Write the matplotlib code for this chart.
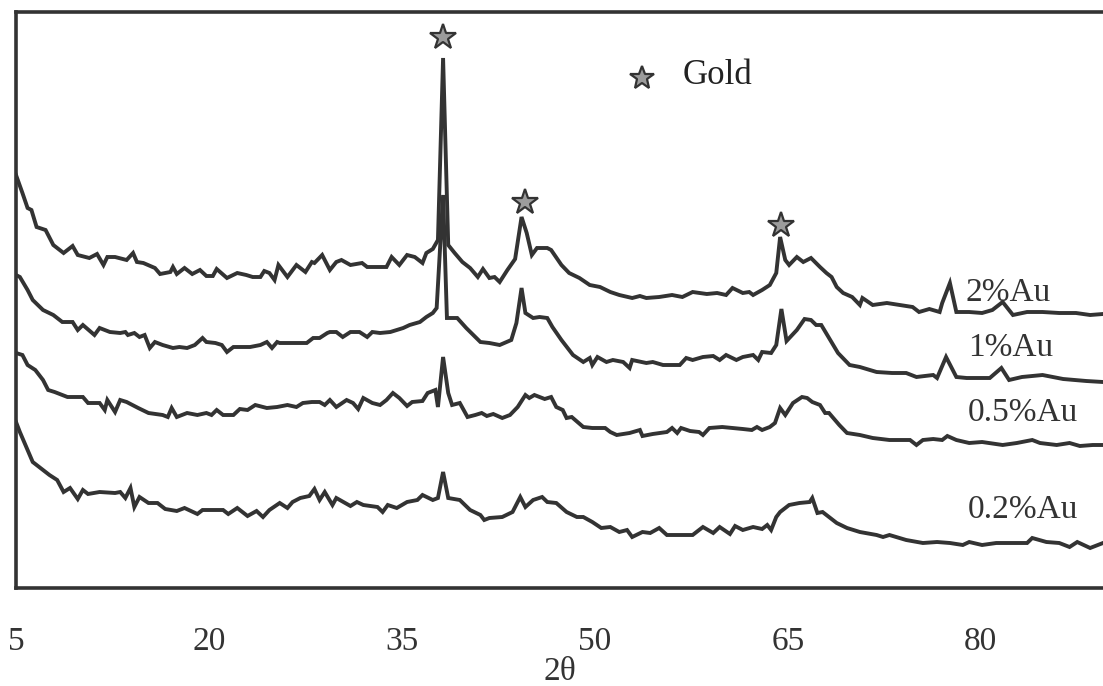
import matplotlib
matplotlib.use("Agg")
import matplotlib.pyplot as plt

# 2theta (deg) and intensity (a.u., curves already offset)
theta_2 = [5.0, 5.5, 5.9, 6.2, 6.6, 7.3, 7.9, 8.7, 9.4, 9.8, 10.7, 11.3, 11.8, 12.1, 12.7, 13.6, 14.1, 14.4, 14.9,
           15.8, 16.2, 17.0, 17.2, 17.5, 18.1, 18.7, 19.3, 19.8, 20.3, 20.6, 21.4, 22.2, 22.9, 23.4, 24.0, 24.3,
           24.7, 25.1, 25.4, 26.1, 26.8, 27.5, 28.0, 28.2, 28.8, 29.4, 29.9, 30.3, 31.0, 31.9, 32.3, 33.8, 34.2,
           34.8, 35.4, 36.0, 36.6, 36.9, 37.4, 37.8, 38.2, 38.6, 39.1, 39.7, 40.3, 40.9, 41.3, 41.8, 42.2, 42.6,
           43.2, 43.8, 44.3, 44.7, 45.1, 45.5, 46.3, 46.6, 47.4, 48.0, 48.8, 49.6, 50.4, 51.2, 51.9, 52.9, 53.5,
           54.0, 55.0, 56.0, 56.8, 57.6, 58.7, 59.5, 60.2, 60.7, 61.5, 62.0, 62.3, 63.0, 63.6, 64.1, 64.4, 64.8,
           65.1, 65.7, 66.2, 66.8, 67.5, 68.0, 68.4, 68.8, 69.3, 70.0, 70.6, 70.8, 71.6, 72.7, 73.7, 74.7, 75.2,
           76.0, 76.8, 77.0, 77.6, 78.1, 79.1, 80.1, 80.9, 81.7, 82.5, 83.6, 84.8, 86.1, 87.4, 88.5, 89.5]
int_2 = [413, 395, 380, 378, 361, 358, 343, 335, 342, 333, 330, 334, 323, 331, 331, 328, 335, 326, 325,
         320, 314, 316, 321, 314, 320, 314, 318, 312, 312, 319, 310, 315, 313, 311, 311, 317,
         315, 308, 323, 311, 323, 316, 326, 325, 333, 318, 326, 328, 323, 325, 321, 321, 331,
         323, 333, 331, 325, 335, 339, 348, 530, 343, 335, 326, 320, 311, 319, 310, 311, 306,
         318, 329, 371, 355, 333, 340, 340, 338, 323, 315, 310, 303, 301, 296, 293, 290, 292,
         290, 291, 293, 291, 296, 294, 295, 293, 300, 295, 296, 293, 298, 303, 315, 351, 328,
         323, 331, 326, 330, 321, 315, 311, 301, 295, 291, 283, 290, 283, 285, 283, 281, 276,
         279, 276, 285, 305, 276, 276, 275, 278, 286, 273, 276, 276, 275, 275, 273, 274]

theta_1 = [5.0, 5.3, 5.9, 6.3, 7.1, 7.9, 8.6, 9.4, 9.8, 10.2, 11.1, 11.5, 12.3, 13.1, 13.5, 13.7, 14.2, 14.6,
           15.0, 15.4, 15.8, 16.4, 17.2, 17.7, 18.3, 18.9, 19.5, 19.8, 20.5, 21.0, 21.4, 21.9, 22.6, 23.2,
           24.0, 24.5, 24.9, 25.3, 25.5, 26.5, 27.6, 28.1, 28.6, 29.2, 29.4, 29.9, 30.4, 31.0, 31.7, 32.3,
           32.7, 33.3, 34.1, 35.1, 35.6, 36.4, 36.9, 37.4, 37.7, 38.2, 38.5, 39.3, 40.0, 41.1, 41.8, 42.6,
           43.5, 43.9, 44.3, 44.6, 45.2, 45.7, 46.3, 46.7, 47.4, 48.3, 49.1, 49.6, 49.8, 50.2, 50.9, 51.4,
           52.2, 52.7, 52.9, 54.0, 54.5, 55.3, 56.6, 57.1, 57.6, 58.4, 59.2, 59.7, 60.2, 61.0, 61.5, 62.3,
           62.7, 63.0, 63.7, 64.1, 64.5, 64.9, 65.7, 66.3, 66.8, 67.2, 67.6, 68.2, 68.9, 69.8, 70.6, 71.9,
           73.1, 74.2, 75.0, 76.3, 76.6, 77.3, 78.1, 78.9, 80.7, 81.6, 82.2, 83.2, 84.8, 86.4, 88.2, 89.5]
int_1 = [313, 311, 298, 288, 278, 273, 266, 266, 258, 263, 253, 260, 256, 255, 256, 253, 255, 251,
         253, 240, 246, 243, 240, 241, 240, 243, 250, 246, 245, 243, 236, 241, 241, 241,
         243, 246, 240, 246, 245, 245, 245, 250, 250, 255, 256, 256, 251, 256, 256, 251,
         256, 255, 256, 260, 263, 266, 271, 275, 280, 393, 270, 270, 260, 246, 245, 243,
         248, 265, 300, 275, 270, 271, 270, 261, 248, 233, 226, 230, 223, 231, 226, 228,
         226, 220, 228, 225, 226, 223, 223, 230, 228, 231, 232, 228, 233, 228, 231, 233,
         228, 236, 235, 243, 279, 247, 258, 269, 268, 263, 263, 250, 235, 223, 221, 216,
         215, 215, 211, 213, 210, 231, 211, 210, 210, 220, 208, 211, 213, 209, 207, 206]

theta_05 = [5.0, 5.5, 5.9, 6.5, 7.1, 7.5, 8.0, 9.0, 10.2, 10.6, 11.5, 11.9, 12.1, 12.7, 13.1, 13.6, 14.5,
            15.3, 16.4, 16.8, 17.1, 17.5, 18.3, 19.1, 19.8, 20.2, 20.6, 21.1, 21.9, 22.4, 23.0, 23.6, 24.5,
            25.3, 26.1, 26.8, 27.3, 28.0, 28.6, 29.0, 29.4, 29.9, 30.7, 31.2, 31.6, 32.0, 32.7, 33.3, 33.8,
            34.3, 34.8, 35.4, 35.8, 36.6, 37.0, 37.6, 37.8, 38.2, 38.6, 38.9, 39.5, 40.1, 40.7, 41.2, 41.6,
            42.1, 42.8, 43.4, 44.0, 44.6, 44.9, 45.3, 46.1, 46.6, 47.0, 47.5, 47.8, 48.2, 49.1, 49.8, 50.8,
            51.2, 51.7, 52.7, 53.5, 53.7, 54.5, 55.6, 56.0, 56.4, 56.7, 57.4, 58.1, 58.4, 58.9, 59.9, 60.7,
            61.5, 62.2, 62.6, 63.0, 63.6, 64.0, 64.4, 64.8, 65.4, 66.1, 66.5, 66.9, 67.5, 67.9, 68.2, 69.0,
            69.6, 70.6, 71.6, 72.9, 74.5, 75.0, 75.5, 76.3, 77.0, 77.4, 78.1, 79.1, 80.1, 81.7, 82.8, 84.0,
            84.6, 85.9, 86.9, 87.7, 88.7, 89.5]
int_05 = [235, 233, 223, 218, 208, 198, 196, 191, 191, 185, 185, 178, 188, 176, 188, 186, 180,
          175, 173, 171, 180, 171, 175, 173, 175, 173, 178, 173, 173, 179, 178, 183, 180,
          181, 183, 181, 185, 186, 186, 183, 188, 181, 188, 185, 179, 190, 185, 183, 188,
          195, 190, 182, 186, 187, 195, 198, 181, 231, 195, 183, 185, 171, 173, 175, 172,
          174, 170, 173, 181, 193, 190, 193, 189, 191, 181, 178, 170, 171, 161, 160, 160,
          156, 153, 155, 158, 152, 154, 156, 160, 155, 160, 157, 156, 153, 160, 161, 160,
          159, 158, 161, 158, 161, 165, 180, 173, 185, 191, 190, 186, 183, 175, 175, 163,
          155, 153, 150, 148, 148, 143, 148, 149, 148, 152, 148, 145, 146, 143, 145, 148,
          145, 143, 145, 142, 143, 143]

theta_02 = [5.0, 5.3, 5.9, 6.3, 6.9, 7.6, 8.2, 8.7, 9.2, 9.8, 10.2, 10.6, 11.5, 12.7, 13.1, 13.5, 13.9, 14.2,
            14.6, 15.3, 16.0, 16.6, 17.5, 18.1, 19.1, 19.5, 21.1, 21.5, 22.2, 23.0, 23.7, 24.2, 24.7, 25.5,
            26.1, 26.5, 27.1, 27.8, 28.2, 28.6, 29.0, 29.6, 29.9, 31.0, 31.5, 32.0, 33.1, 33.5, 33.9, 34.6,
            35.4, 36.2, 36.6, 37.4, 37.8, 38.2, 38.6, 39.5, 40.3, 41.1, 41.4, 41.8, 42.8, 43.6, 44.2, 44.6,
            45.2, 45.9, 46.3, 47.0, 47.8, 48.6, 49.1, 49.8, 50.5, 51.2, 51.9, 52.5, 52.9, 53.7, 54.3, 55.0,
            55.6, 56.6, 57.6, 58.4, 59.2, 59.7, 60.5, 60.9, 61.5, 62.3, 63.0, 63.4, 63.7, 64.1, 64.4, 65.1,
            65.9, 66.7, 66.9, 67.3, 67.7, 68.2, 68.8, 69.6, 70.6, 71.9, 72.4, 72.9, 74.2, 75.5, 76.6, 77.6,
            78.6, 79.1, 80.1, 81.2, 82.5, 83.6, 84.0, 85.1, 86.1, 86.9, 87.5, 88.5, 89.5]
int_02 = [166, 156, 138, 126, 120, 113, 108, 96, 100, 89, 98, 94, 96, 95, 96, 90, 100, 81,
          91, 85, 85, 79, 77, 80, 74, 78, 78, 74, 80, 72, 77, 71, 78, 85,
          80, 86, 90, 92, 99, 88, 96, 83, 90, 82, 86, 83, 81, 76, 83, 80,
          86, 88, 93, 88, 90, 116, 90, 88, 78, 73, 68, 70, 71, 76, 91, 81,
          88, 91, 86, 85, 76, 71, 71, 66, 60, 61, 56, 58, 51, 56, 55, 60,
          53, 53, 53, 61, 55, 61, 54, 62, 58, 61, 59, 63, 58, 71, 76, 83,
          85, 86, 90, 75, 76, 71, 65, 60, 56, 53, 51, 53, 48, 45, 46, 45,
          43, 46, 43, 45, 45, 45, 50, 46, 45, 41, 46, 40, 45]

series = [(theta_2, int_2), (theta_1, int_1), (theta_05, int_05), (theta_02, int_02)]
series_labels = ["2%Au", "1%Au", "0.5%Au", "0.2%Au"]
label_x = [78.8, 79.0, 79.0, 79.0]
label_y = [295, 240, 175, 78]

# gold reflections marked on the 2% pattern
gold_theta = [38.2, 44.6, 64.5]
gold_int = [551, 386, 363]

xticks = [5, 20, 35, 50, 65, 80]

LINE = "#333333"
STAR_FACE = "#9c9c9c"


def draw_xrd():
    fig = plt.figure(figsize=(11.03, 6.86), dpi=100)
    ax = fig.add_axes([16 / 1103, 98 / 686, 1087 / 1103, 576 / 686])
    plt.rcParams["font.family"] = ["Liberation Serif", "DejaVu Serif"]

    for (tt, inten) in series:
        ax.plot(tt, inten, color=LINE, lw=2.8, solid_joinstyle="miter")

    # star markers over the gold peaks
    ax.plot(gold_theta, gold_int, ls="none", marker="*", ms=19,
            mfc=STAR_FACE, mec=LINE, mew=1.6)

    # legend-ish entry
    ax.plot([53.7], [510], ls="none", marker="*", ms=18,
            mfc=STAR_FACE, mec=LINE, mew=1.6)
    ax.text(56.8, 513, "Gold", fontsize=25, va="center", ha="left",
            color="#222222", family=["Liberation Serif"])

    for lab, lx, ly in zip(series_labels, label_x, label_y):
        ax.text(lx, ly, lab, fontsize=24, va="center", ha="left",
                color="#333333", family=["Liberation Serif"])

    ax.set_xlim(5, 89.5)
    ax.set_ylim(0, 576)
    ax.set_xticks(xticks)
    ax.set_xticklabels([str(t) for t in xticks], family="Liberation Serif",
                       fontsize=24, color="#333333")
    ax.tick_params(axis="x", length=0, pad=28)
    ax.set_yticks([])

    for side in ["left", "top", "bottom"]:
        ax.spines[side].set_color(LINE)
        ax.spines[side].set_linewidth(2.6)
    ax.spines["right"].set_visible(False)

    fig.text(560 / 1103, 1 - 672 / 686, "2\u03b8", fontsize=24, ha="center",
             va="center", color="#333333", family=["Liberation Serif"])

    fig.savefig("out.png", dpi=100)


if __name__ == "__main__":
    draw_xrd()
